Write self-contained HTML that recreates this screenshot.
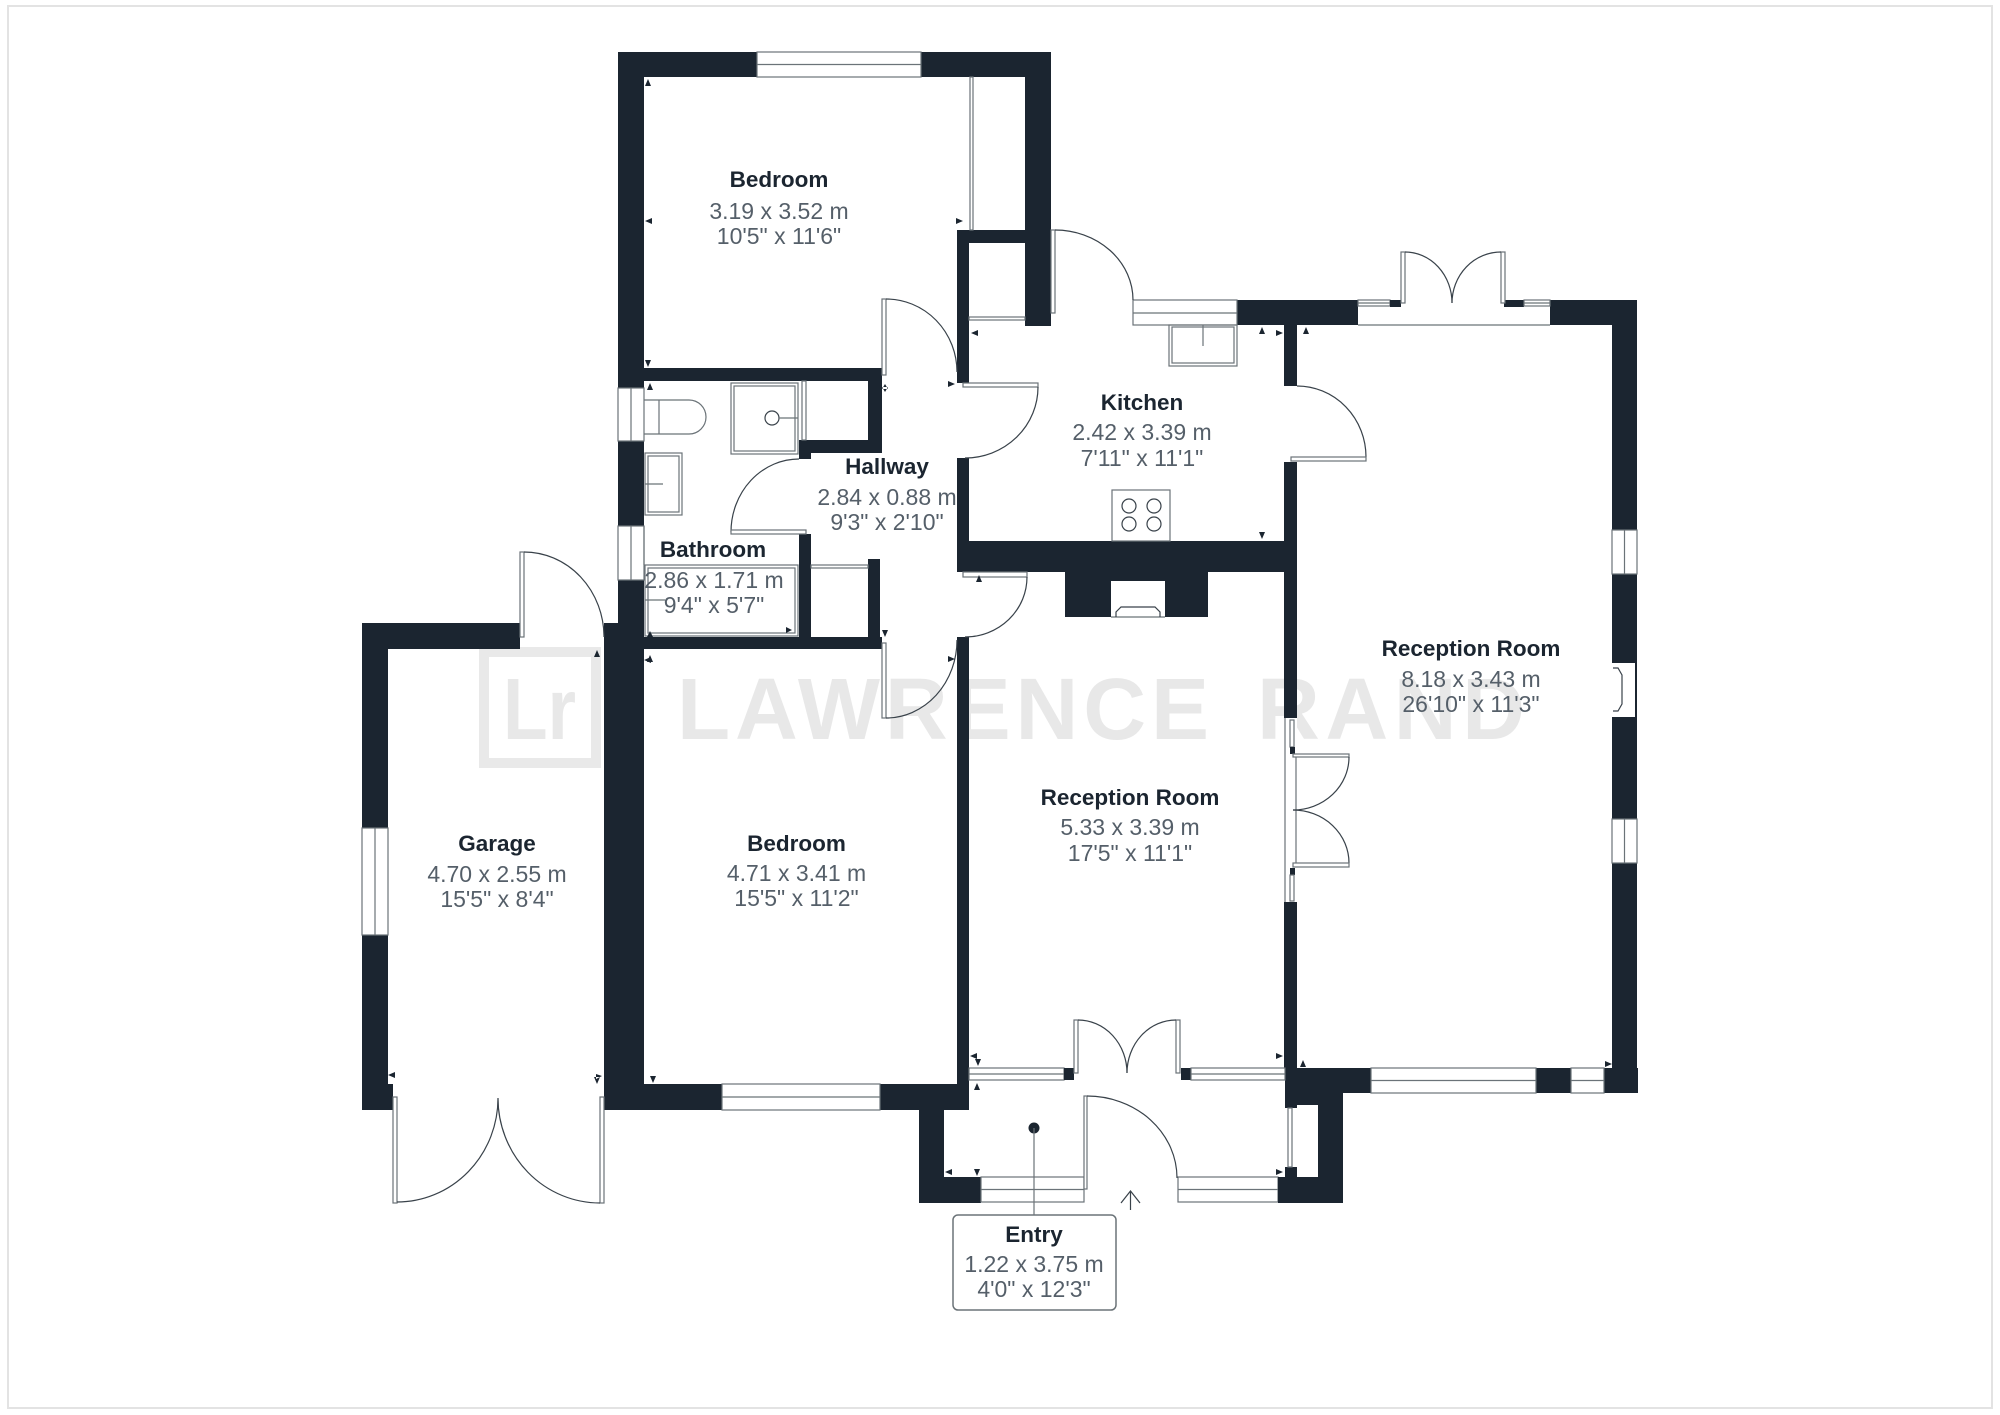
<!DOCTYPE html>
<html><head><meta charset="utf-8"><style>
html,body{margin:0;padding:0;background:#fff}
svg{display:block}
.d{fill:#1b2530}
.w{fill:#fff;stroke:#6b7378;stroke-width:1.2}
.s{fill:none;stroke:#6b7378;stroke-width:1.2}
.a{fill:none;stroke:#39424a;stroke-width:1.2}
.t{font:bold 22.5px "Liberation Sans",sans-serif;fill:#1b2530;text-anchor:middle}
.m{font:23px "Liberation Sans",sans-serif;fill:#555f69;text-anchor:middle}
.wm{font:bold 87px "Liberation Sans",sans-serif;fill:#e8e8e8}
</style></head><body>
<svg width="2000" height="1415" viewBox="0 0 2000 1415" xmlns="http://www.w3.org/2000/svg">
<rect width="2000" height="1415" fill="#fff"/>
<rect x="8" y="6" width="1984" height="1402" fill="none" stroke="#e3e3e3" stroke-width="2"/>

<!-- watermark -->
<rect x="484" y="652" width="112" height="111" fill="none" stroke="#e9e9e9" stroke-width="10"/>
<text class="wm" x="503" y="739" textLength="73" lengthAdjust="spacingAndGlyphs">Lr</text>
<text class="wm" x="677" y="739" textLength="532" lengthAdjust="spacing">LAWRENCE</text>
<text class="wm" x="1257" y="739" textLength="268" lengthAdjust="spacing">RAND</text>

<!-- top bedroom walls -->
<rect class="d" x="618" y="52" width="433" height="25"/>
<rect class="d" x="618" y="52" width="26" height="571"/>
<rect class="d" x="1025" y="52" width="26" height="274"/>
<rect class="d" x="957" y="230" width="68" height="13"/>
<rect class="d" x="957" y="230" width="12" height="153"/>
<rect class="w" x="757" y="52" width="164" height="25"/><line class="s" x1="757" y1="64.500" x2="921" y2="64.500"/>
<rect class="w" x="970" y="77" width="3" height="153"/>
<rect class="w" x="969" y="317" width="56" height="3"/>
<!-- bathroom walls -->
<rect class="d" x="644" y="368" width="238" height="13"/>
<rect class="d" x="868" y="381" width="14" height="72"/>
<rect class="d" x="799" y="440" width="83" height="13"/>
<rect class="d" x="799" y="440" width="12" height="19"/>
<rect class="d" x="799" y="534" width="12" height="103"/>
<rect class="d" x="868" y="559" width="12" height="78"/>
<rect class="d" x="644" y="637" width="238" height="12"/>
<rect class="w" x="618" y="388" width="26" height="53"/><line class="s" x1="631" y1="388" x2="631" y2="441"/>
<rect class="w" x="618" y="526" width="26" height="54"/><line class="s" x1="631" y1="526" x2="631" y2="580"/>
<rect class="w" x="802" y="381" width="4" height="59"/>
<rect class="w" x="811" y="565" width="57" height="3"/>
<!-- left mass + garage -->
<rect class="d" x="604" y="623" width="40" height="487"/>
<rect class="d" x="362" y="623" width="158" height="26"/>
<rect class="d" x="362" y="623" width="26" height="487"/>
<rect class="d" x="388" y="1084" width="5" height="26"/>
<rect class="w" x="362" y="828" width="26" height="107"/><line class="s" x1="375" y1="828" x2="375" y2="935"/>
<!-- bedroom2 bottom -->
<rect class="d" x="604" y="1084" width="365" height="26"/>
<rect class="w" x="722" y="1084" width="158" height="26"/><line class="s" x1="722" y1="1097" x2="880" y2="1097"/>
<rect class="d" x="957" y="637" width="12" height="460"/>
<!-- entry -->
<rect class="d" x="919" y="1097" width="25" height="106"/>
<rect class="d" x="919" y="1177" width="62" height="26"/>
<rect class="w" x="981" y="1177" width="103" height="25"/><line class="s" x1="981" y1="1189.500" x2="1084" y2="1189.500"/>
<rect class="w" x="1178" y="1177" width="100" height="25"/><line class="s" x1="1178" y1="1189.500" x2="1278" y2="1189.500"/>
<rect class="d" x="1278" y="1177" width="65" height="26"/>
<rect class="d" x="1318" y="1093" width="25" height="110"/>
<rect class="d" x="1285" y="1068" width="86" height="25"/>
<rect class="d" x="1285" y="1093" width="33" height="12"/>
<rect class="d" x="1285" y="1105" width="12" height="3"/>
<rect class="d" x="1285" y="1167" width="12" height="10"/>
<rect class="w" x="1288" y="1108" width="4" height="59"/>
<!-- kitchen walls -->
<rect class="d" x="957" y="458" width="12" height="114"/>
<rect class="d" x="957" y="541" width="340" height="31"/>
<rect class="d" x="1065" y="572" width="143" height="45"/>
<rect fill="#fff" x="1111" y="581" width="54" height="36"/>
<line class="s" x1="1111" y1="617" x2="1165" y2="617"/>
<path class="a" d="M1116 617V612L1121 607H1155L1160 612V617"/>
<rect class="d" x="1284" y="325" width="13" height="61"/>
<rect class="d" x="1284" y="462" width="13" height="256"/>
<rect class="d" x="1284" y="902" width="13" height="170"/>
<rect fill="#fff" x="1284" y="718" width="13" height="184"/>
<path class="s" d="M1285 718V902M1296 757V863"/>
<rect class="w" x="1290" y="720" width="4" height="27"/>
<rect class="d" x="1290" y="747" width="5" height="7"/>
<rect class="d" x="1290" y="868" width="5" height="7"/>
<rect class="w" x="1290" y="875" width="4" height="26"/>
<!-- top wall kitchen -->
<rect class="d" x="1237" y="300" width="121" height="25"/>
<rect class="d" x="1550" y="300" width="87" height="25"/>
<rect class="d" x="1612" y="300" width="25" height="793"/>
<rect class="w" x="1133" y="300" width="104" height="25"/><line class="s" x1="1133" y1="313" x2="1237" y2="313"/>
<path class="s" d="M1358 325H1550"/>
<rect class="w" x="1358" y="300" width="32" height="6"/><line class="s" x1="1358" y1="303" x2="1390" y2="303"/>
<rect class="d" x="1390" y="300" width="11" height="7"/>
<rect class="d" x="1504" y="300" width="20" height="7"/>
<rect class="w" x="1524" y="300" width="26" height="6"/><line class="s" x1="1524" y1="303" x2="1550" y2="303"/>
<!-- right wall windows -->
<rect class="w" x="1612" y="530" width="25" height="44"/><line class="s" x1="1624.500" y1="530" x2="1624.500" y2="574"/>
<rect fill="#fff" x="1612" y="663" width="23" height="54"/>
<path class="a" d="M1613 668H1618L1622 675V704L1618 711H1613"/>
<rect class="w" x="1612" y="819" width="25" height="44"/><line class="s" x1="1624.500" y1="819" x2="1624.500" y2="863"/>
<!-- right reception bottom -->
<rect class="d" x="1371" y="1068" width="267" height="25"/>
<rect class="w" x="1371" y="1068" width="165" height="25"/><line class="s" x1="1371" y1="1080.500" x2="1536" y2="1080.500"/>
<rect class="w" x="1571" y="1068" width="33" height="25"/><line class="s" x1="1571" y1="1080.500" x2="1604" y2="1080.500"/>
<!-- entry-reception screens -->
<rect class="w" x="969" y="1068" width="95" height="12"/><line class="s" x1="969" y1="1074" x2="1064" y2="1074"/>
<rect class="d" x="1064" y="1068" width="10" height="12"/>
<rect class="d" x="1181" y="1068" width="10" height="12"/>
<rect class="w" x="1191" y="1068" width="94" height="12"/><line class="s" x1="1191" y1="1074" x2="1285" y2="1074"/>

<!-- doors -->
<rect class="w" x="882" y="299" width="4" height="76"/><path class="a" d="M886 299A71 73 0 0 1 957 372"/>
<rect class="w" x="963" y="383" width="75" height="4"/><path class="a" d="M1038 387A73 71 0 0 1 965 458"/>
<path class="a" d="M799 459A68 73 0 0 0 731 532"/><rect class="w" x="731" y="530" width="75" height="4"/>
<rect class="w" x="963" y="572" width="64" height="5"/><path class="a" d="M1027 577A62 60 0 0 1 965 637"/>
<rect class="w" x="882" y="643" width="4" height="75"/><path class="a" d="M886 718A71 78 0 0 0 957 640"/>
<rect class="w" x="1051" y="230" width="4" height="83"/><path class="a" d="M1055 230A78 70 0 0 1 1133 300"/>
<path class="a" d="M1297 386A69 71 0 0 1 1366 457"/><rect class="w" x="1291" y="457" width="75" height="4"/>
<rect class="w" x="1401" y="252" width="4" height="51"/><path class="a" d="M1405 252A47 51 0 0 1 1452 303"/>
<rect class="w" x="1501" y="252" width="4" height="51"/><path class="a" d="M1501 252A49 51 0 0 0 1452 303"/>
<rect class="w" x="1293" y="754" width="56" height="3"/><path class="a" d="M1349 757A56 53 0 0 1 1293 810"/>
<path class="a" d="M1293 810A56 53 0 0 1 1349 863"/><rect class="w" x="1293" y="863" width="56" height="4"/>
<rect class="w" x="1074" y="1020" width="4" height="53"/><path class="a" d="M1078 1020A49 53 0 0 1 1127 1073"/>
<rect class="w" x="1176" y="1020" width="4" height="53"/><path class="a" d="M1176 1020A49 53 0 0 0 1127 1073"/>
<rect class="w" x="1084" y="1096" width="3" height="93"/><path class="a" d="M1087 1096A90 82 0 0 1 1177 1178"/>
<rect class="w" x="520" y="552" width="4" height="85"/><path class="a" d="M524 552A80 85 0 0 1 604 637"/>
<rect class="w" x="393" y="1097" width="4" height="106"/><rect class="w" x="600" y="1097" width="4" height="106"/>
<path class="a" d="M397 1202A101 104 0 0 0 498 1098A102 105 0 0 0 600 1203"/>

<!-- fixtures -->
<rect class="s" x="731" y="383" width="67" height="71"/><rect class="s" x="734" y="386" width="61" height="65"/>
<circle class="a" cx="772" cy="418" r="7"/><line class="s" x1="779" y1="418" x2="798" y2="418"/>
<path class="s" d="M644 400H689A17 17 0 0 1 689 434H644M659 400V434"/>
<rect class="s" x="645" y="453" width="37" height="62"/><rect class="s" x="648" y="456" width="31" height="56"/>
<line class="s" x1="645" y1="484" x2="663" y2="484"/>
<rect class="s" x="645" y="565" width="153" height="71"/><rect class="s" x="648" y="568" width="147" height="65"/>
<line class="s" x1="645" y1="600" x2="665" y2="600"/>
<path class="s" d="M644 526V565"/>
<rect class="s" x="1169" y="325" width="68" height="41"/><rect class="s" x="1172" y="327" width="62" height="36"/>
<line class="s" x1="1203" y1="325" x2="1203" y2="346"/>
<rect class="s" x="1112" y="490" width="58" height="51"/>
<g class="a"><circle cx="1129" cy="506" r="7"/><circle cx="1154" cy="506" r="7"/><circle cx="1129" cy="524" r="7"/><circle cx="1154" cy="524" r="7"/></g>

<!-- dimension arrows -->
<path fill="#1b2530" d="M648 79l3 7h-6zM645 221l7-3v6zM963 221l-7-3v6zM648 367l3-7h-6zM650 383l3 7h-6zM955 384l-7-3v6zM885 384l3 5h-6zM885 392l3-5h-6zM971 333l7-3v6zM1262 327l3 7h-6zM1283 333l-7-3v6zM1306 327l3 7h-6zM1262 539l3-7h-6zM979 575l3 7h-6zM885 637l3-7h-6zM955 659l-7-3v6zM650 631l3 6h-6zM792 630l-6-3v6zM650 655l3 7h-6zM644 660l7-3v6zM597 650l3 7h-6zM653 1083l3-7h-6zM388 1075l7-3v6zM597 1084l3-7h-6zM596 1074l6 2-6 3zM970 1056l7-3v6zM978 1066l3-7h-6zM977 1083l3 7h-6zM1283 1056l-7-3v6zM1303 1060l3 7h-6zM1612 1064l-7-3v6zM945 1172l7-3v6zM977 1176l3-7h-6zM1283 1172l-7-3v6z"/>

<!-- entry callout -->
<circle cx="1034" cy="1128" r="5.500" fill="#1b2530"/>
<line class="s" x1="1034" y1="1128" x2="1034" y2="1215"/>
<rect x="953" y="1215" width="163" height="95" rx="5" fill="#fff" stroke="#6b7378" stroke-width="1.500"/>
<path class="a" d="M1130.500 1210V1191M1121 1203L1130.500 1191L1140 1203"/>

<!-- labels -->
<text class="t" x="779" y="187">Bedroom</text><text class="m" x="779" y="219">3.19 x 3.52 m</text><text class="m" x="779" y="244">10'5" x 11'6"</text>
<text class="t" x="1142" y="410">Kitchen</text><text class="m" x="1142" y="440">2.42 x 3.39 m</text><text class="m" x="1142" y="466">7'11" x 11'1"</text>
<text class="t" x="887" y="474">Hallway</text><text class="m" x="887" y="505">2.84 x 0.88 m</text><text class="m" x="887" y="530">9'3" x 2'10"</text>
<text class="t" x="713" y="557">Bathroom</text><text class="m" x="714" y="588">2.86 x 1.71 m</text><text class="m" x="714" y="613">9'4" x 5'7"</text>
<text class="t" x="1471" y="656">Reception Room</text><text class="m" x="1471" y="687">8.18 x 3.43 m</text><text class="m" x="1471" y="712">26'10" x 11'3"</text>
<text class="t" x="1130" y="805">Reception Room</text><text class="m" x="1130" y="835">5.33 x 3.39 m</text><text class="m" x="1130" y="861">17'5" x 11'1"</text>
<text class="t" x="796.500" y="851">Bedroom</text><text class="m" x="796.500" y="881">4.71 x 3.41 m</text><text class="m" x="796.500" y="906">15'5" x 11'2"</text>
<text class="t" x="497" y="851">Garage</text><text class="m" x="497" y="882">4.70 x 2.55 m</text><text class="m" x="497" y="907">15'5" x 8'4"</text>
<text class="t" x="1034" y="1242">Entry</text><text class="m" x="1034" y="1272">1.22 x 3.75 m</text><text class="m" x="1034" y="1297">4'0" x 12'3"</text>
</svg>
</body></html>
